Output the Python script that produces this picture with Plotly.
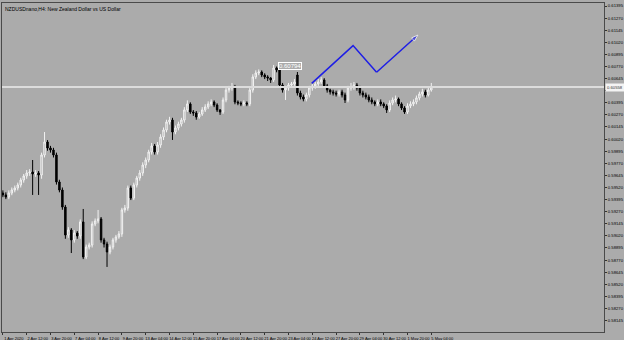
import plotly.graph_objects as go

title_text = "NZDUSDnano,H4: New Zealand Dollar vs US Dollar"

opens = [0.59463,0.59443,0.59422,0.59463,0.59494,0.59515,0.59546,0.59597,0.59639,0.59670,
 0.59680,0.59659,0.59670,0.59649,0.59856,0.59990,0.59928,0.59907,0.59856,0.59577,
 0.59494,0.59318,0.59029,0.59081,0.58978,0.59050,0.59019,0.59164,0.58802,0.58905,
 0.58926,0.59143,0.59174,0.59195,0.58978,0.58936,0.58854,0.58905,0.58978,0.59009,
 0.59040,0.59288,0.59308,0.59515,0.59411,0.59546,0.59618,0.59670,0.59752,0.59804,
 0.59887,0.59949,0.59887,0.59959,0.60042,0.60114,0.60197,0.60217,0.60093,0.60135,
 0.60176,0.60217,0.60321,0.60383,0.60300,0.60290,0.60248,0.60279,0.60321,0.60352,
 0.60383,0.60403,0.60372,0.60321,0.60300,0.60424,0.60527,0.60548,0.60558,0.60403,
 0.60393,0.60383,0.60393,0.60383,0.60527,0.60662,0.60703,0.60713,0.60682,0.60662,
 0.60651,0.60631,0.60755,0.60734,0.60579,0.60527,0.60548,0.60579,0.60589,0.60682,
 0.60496,0.60455,0.60434,0.60476,0.60548,0.60569,0.60589,0.60610,0.60631,0.60569,
 0.60527,0.60507,0.60496,0.60486,0.60507,0.60476,0.60424,0.60548,0.60558,0.60579,
 0.60548,0.60496,0.60476,0.60455,0.60424,0.60403,0.60383,0.60403,0.60383,0.60362,
 0.60321,0.60393,0.60424,0.60434,0.60383,0.60341,0.60300,0.60362,0.60383,0.60403,
 0.60445,0.60486,0.60507,0.60476,0.60527]

highs = [0.59490,0.59470,0.59490,0.59520,0.59540,0.59570,0.59620,0.59660,0.59700,0.59710,
 0.59804,0.59700,0.59690,0.59880,0.60093,0.60010,0.59950,0.59930,0.59880,0.59600,
 0.59520,0.59340,0.59110,0.59100,0.59080,0.59070,0.59190,0.59298,0.58930,0.58950,
 0.59170,0.59200,0.59288,0.59215,0.59000,0.58960,0.58930,0.59000,0.59030,0.59070,
 0.59310,0.59340,0.59540,0.59540,0.59570,0.59640,0.59700,0.59780,0.59830,0.59910,
 0.59980,0.59970,0.59990,0.60070,0.60140,0.60220,0.60250,0.60240,0.60160,0.60200,
 0.60240,0.60350,0.60420,0.60400,0.60320,0.60310,0.60300,0.60350,0.60380,0.60410,
 0.60430,0.60420,0.60390,0.60330,0.60450,0.60550,0.60570,0.60600,0.60580,0.60420,
 0.60410,0.60420,0.60410,0.60550,0.60690,0.60730,0.60740,0.60730,0.60700,0.60680,
 0.60660,0.60786,0.60770,0.60750,0.60600,0.60570,0.60600,0.60610,0.60640,0.60713,
 0.60520,0.60480,0.60500,0.60570,0.60590,0.60610,0.60640,0.60660,0.60650,0.60590,
 0.60540,0.60530,0.60520,0.60530,0.60530,0.60500,0.60570,0.60600,0.60610,0.60600,
 0.60570,0.60520,0.60500,0.60480,0.60450,0.60420,0.60430,0.60430,0.60400,0.60380,
 0.60420,0.60450,0.60470,0.60450,0.60400,0.60360,0.60390,0.60410,0.60430,0.60470,
 0.60510,0.60540,0.60530,0.60560,0.60600]

lows = [0.59420,0.59400,0.59400,0.59440,0.59470,0.59490,0.59520,0.59570,0.59610,0.59640,
 0.59443,0.59630,0.59443,0.59610,0.59830,0.59900,0.59880,0.59830,0.59550,0.59470,
 0.59290,0.58990,0.59000,0.58843,0.58950,0.58990,0.58990,0.58780,0.58780,0.58880,
 0.58900,0.59120,0.59150,0.58950,0.58900,0.58699,0.58830,0.58880,0.58950,0.58990,
 0.59010,0.59260,0.59280,0.59390,0.59390,0.59520,0.59590,0.59640,0.59720,0.59780,
 0.59860,0.59860,0.59860,0.59930,0.60010,0.60090,0.60170,0.60011,0.60070,0.60110,
 0.60150,0.60190,0.60300,0.60280,0.60260,0.60220,0.60230,0.60260,0.60300,0.60330,
 0.60360,0.60350,0.60300,0.60270,0.60280,0.60400,0.60500,0.60520,0.60380,0.60370,
 0.60360,0.60360,0.60360,0.60360,0.60500,0.60640,0.60680,0.60660,0.60640,0.60620,
 0.60600,0.60610,0.60710,0.60550,0.60500,0.60424,0.60520,0.60550,0.60570,0.60470,
 0.60430,0.60410,0.60410,0.60450,0.60520,0.60540,0.60560,0.60590,0.60550,0.60500,
 0.60480,0.60470,0.60460,0.60460,0.60450,0.60393,0.60400,0.60520,0.60530,0.60520,
 0.60470,0.60450,0.60430,0.60400,0.60380,0.60360,0.60360,0.60360,0.60340,0.60290,
 0.60300,0.60370,0.60400,0.60360,0.60320,0.60280,0.60280,0.60340,0.60360,0.60380,
 0.60420,0.60460,0.60450,0.60460,0.60510]

closes = [0.59443,0.59422,0.59463,0.59494,0.59515,0.59546,0.59597,0.59639,0.59670,0.59680,
 0.59659,0.59670,0.59649,0.59856,0.59990,0.59928,0.59907,0.59856,0.59577,0.59494,
 0.59318,0.59029,0.59081,0.58978,0.59050,0.59019,0.59164,0.58802,0.58905,0.58926,
 0.59143,0.59174,0.59195,0.58978,0.58936,0.58854,0.58905,0.58978,0.59009,0.59040,
 0.59288,0.59308,0.59515,0.59411,0.59546,0.59618,0.59670,0.59752,0.59804,0.59887,
 0.59949,0.59887,0.59959,0.60042,0.60114,0.60197,0.60217,0.60093,0.60135,0.60176,
 0.60217,0.60321,0.60383,0.60300,0.60290,0.60248,0.60279,0.60321,0.60352,0.60383,
 0.60403,0.60372,0.60321,0.60300,0.60424,0.60527,0.60548,0.60558,0.60403,0.60393,
 0.60383,0.60393,0.60383,0.60527,0.60662,0.60703,0.60713,0.60682,0.60662,0.60651,
 0.60631,0.60755,0.60734,0.60579,0.60527,0.60548,0.60579,0.60589,0.60610,0.60496,
 0.60455,0.60434,0.60476,0.60548,0.60569,0.60589,0.60610,0.60631,0.60569,0.60527,
 0.60507,0.60496,0.60486,0.60507,0.60476,0.60424,0.60548,0.60558,0.60579,0.60548,
 0.60496,0.60476,0.60455,0.60424,0.60403,0.60383,0.60403,0.60383,0.60362,0.60321,
 0.60393,0.60424,0.60434,0.60383,0.60341,0.60300,0.60362,0.60383,0.60403,0.60445,
 0.60486,0.60507,0.60476,0.60527,0.60558]

bar_index = list(range(len(closes)))

x_tick_index = [0, 8, 16, 24, 32, 40, 48, 56, 64, 72, 80, 88, 96, 104, 112, 120, 128, 136, 144]
x_tick_labels = ["1 Apr 2020", "2 Apr 12:00", "3 Apr 20:00", "7 Apr 04:00", "8 Apr 12:00",
                 "9 Apr 20:00", "13 Apr 04:00", "14 Apr 12:00", "15 Apr 20:00", "17 Apr 04:00",
                 "20 Apr 12:00", "21 Apr 20:00", "23 Apr 04:00", "24 Apr 12:00", "27 Apr 20:00",
                 "29 Apr 04:00", "30 Apr 12:00", "1 May 20:00", "5 May 04:00"]

y_tick_values = [0.61395, 0.61270, 0.61145, 0.61020, 0.60895, 0.60770, 0.60645, 0.60520,
                 0.60395, 0.60270, 0.60145, 0.60020, 0.59895, 0.59770, 0.59645, 0.59520,
                 0.59395, 0.59270, 0.59145, 0.59020, 0.58895, 0.58770, 0.58645, 0.58520,
                 0.58395, 0.58270, 0.58145]
# the 0.60520 label sits under the current-price box in the reference
y_tick_labels = ["" if abs(v - 0.60520) < 1e-9 else "%.5f" % v for v in y_tick_values]

# forecast drawing (blue zig-zag arrow)
path_index = [103.8, 117.7, 125.6]
path_price = [0.60596, 0.60986, 0.60710]
arrow_index = [125.6, 139.5]
arrow_price = [0.60710, 0.61095]

high_label_index = 92.6
high_label_price = 0.60775
high_label_text = "0.60794"

current_price = closes[-1]

BG = "#ABABAB"
FONT = "Liberation Sans"

fig = go.Figure()
fig.add_trace(go.Candlestick(
    x=bar_index, open=opens, high=highs, low=lows, close=closes,
    increasing=dict(line=dict(color="#F2F2F2", width=1), fillcolor="#ABABAB"),
    decreasing=dict(line=dict(color="#000000", width=1), fillcolor="#000000"),
    whiskerwidth=0, hoverinfo="skip", showlegend=False))

fig.add_trace(go.Scatter(x=path_index, y=path_price, mode="lines",
                         line=dict(color="#1E1EE6", width=1.5), hoverinfo="skip", showlegend=False))
fig.add_trace(go.Scatter(x=arrow_index, y=arrow_price, mode="lines+markers",
                         line=dict(color="#1E1EE6", width=1.5),
                         marker=dict(symbol="arrow", angleref="previous", size=[0, 7], color="#1E1EE6"),
                         hoverinfo="skip", showlegend=False))

fig.add_hline(y=current_price, line=dict(color="#DCDCDC", width=2))

fig.add_annotation(x=high_label_index, y=high_label_price, xref="x", yref="y",
                   text=high_label_text, showarrow=False, xanchor="left", yanchor="middle",
                   font=dict(family=FONT, size=6, color="#FFFFFF"),
                   bordercolor="#FFFFFF", borderwidth=1, borderpad=0, bgcolor=BG)
fig.add_annotation(x=1.0, y=current_price, xref="paper", yref="y",
                   text="%.5f" % current_price, showarrow=False, xanchor="left", yanchor="middle",
                   xshift=1, font=dict(family=FONT, size=4.2, color="#333333"),
                   bgcolor="#F4F4F4", borderpad=1)
fig.add_annotation(x=0.002, y=0.998, xref="paper", yref="paper", text=title_text,
                   showarrow=False, xanchor="left", yanchor="top",
                   font=dict(family=FONT, size=5, color="#000000"))

fig.update_layout(
    width=624, height=340,
    margin=dict(l=2, r=20, t=3, b=8, autoexpand=False),
    paper_bgcolor=BG, plot_bgcolor=BG,
    xaxis=dict(range=[-0.3, 202.05], tickmode="array", tickvals=x_tick_index, ticktext=x_tick_labels,
               showgrid=False, zeroline=False, rangeslider=dict(visible=False),
               ticks="outside", ticklen=2, tickcolor="#333333", tickangle=0, automargin=False,
               tickfont=dict(family=FONT, size=4, color="#000000"),
               ticklabelshift=11, ticklabelstandoff=0,
               showline=True, linecolor="#4A4A4A", linewidth=1, mirror=True),
    yaxis=dict(range=[0.58027, 0.61426], side="right", tickmode="array",
               tickvals=y_tick_values, ticktext=y_tick_labels, automargin=False,
               showgrid=False, zeroline=False, ticks="outside", ticklen=2, tickcolor="#333333",
               tickfont=dict(family=FONT, size=4.2, color="#000000"), ticklabelstandoff=0,
               showline=True, linecolor="#4A4A4A", linewidth=1, mirror=True),
)

fig.write_html("out.html")
